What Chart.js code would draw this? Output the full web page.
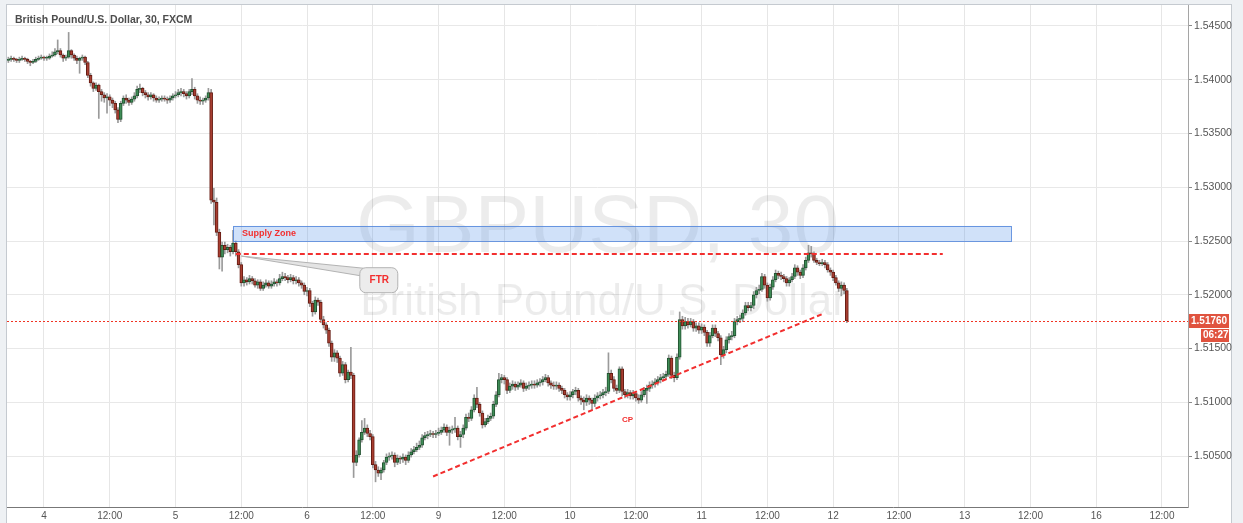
<!DOCTYPE html>
<html>
<head>
<meta charset="utf-8">
<script src="https://cdn.jsdelivr.net/npm/chart.js@4/dist/chart.umd.min.js"></script>
<style>
  html, body { margin: 0; padding: 0; background: #eef1f4; }
  canvas { display: block; }
</style>
</head>
<body>
<canvas id="fx" width="1243" height="523"></canvas>
<script>
// GBPUSD 30 min candles
const firstDay = '3';          // the first candle sits on day 3, 17:30
const firstHalfHour = 35;
const sessionDays = ['4', '5', '6', '9', '10', '11', '12', '13', '16'];
const slotCount = 431;

const opens = [
1.5418,1.5419,1.5420,1.5419,1.5418,1.5419,1.5420,1.5419,1.5417,1.5416,
1.5417,1.5419,1.5420,1.5421,1.5420,1.5420,1.5422,1.5423,1.5426,1.5427,
1.5423,1.5420,1.5421,1.5427,1.5423,1.5420,1.5418,1.5420,1.5421,1.5416,
1.5404,1.5397,1.5392,1.5395,1.5389,1.5386,1.5383,1.5384,1.5381,1.5378,
1.5372,1.5363,1.5378,1.5383,1.5381,1.5379,1.5382,1.5385,1.5391,1.5392,
1.5388,1.5386,1.5384,1.5386,1.5383,1.5381,1.5382,1.5383,1.5382,1.5381,
1.5383,1.5385,1.5386,1.5388,1.5389,1.5387,1.5385,1.5389,1.5391,1.5385,
1.5381,1.5380,1.5381,1.5383,1.5388,1.5288,1.5286,1.5258,1.5235,1.5246,
1.5242,1.5244,1.5240,1.5248,1.5240,1.5228,1.5211,1.5214,1.5212,1.5215,
1.5213,1.5209,1.5212,1.5206,1.5209,1.5211,1.5208,1.5210,1.5212,1.5211,
1.5215,1.5217,1.5216,1.5214,1.5216,1.5213,1.5214,1.5211,1.5209,1.5203,
1.5204,1.5192,1.5184,1.5195,1.5193,1.5177,1.5172,1.5167,1.5155,1.5142,
1.5146,1.5141,1.5127,1.5135,1.5121,1.5128,1.5125,1.5044,1.5051,1.5065,
1.5072,1.5076,1.5071,1.5068,1.5042,1.5037,1.5034,1.5037,1.5044,1.5049,
1.5050,1.5051,1.5044,1.5048,1.5047,1.5049,1.5046,1.5051,1.5054,1.5056,
1.5058,1.5060,1.5067,1.5069,1.5070,1.5071,1.5070,1.5071,1.5072,1.5074,
1.5077,1.5072,1.5074,1.5075,1.5076,1.5068,1.5070,1.5076,1.5086,1.5085,
1.5093,1.5104,1.5098,1.5090,1.5079,1.5082,1.5085,1.5087,1.5098,1.5107,
1.5121,1.5123,1.5121,1.5111,1.5115,1.5117,1.5114,1.5116,1.5118,1.5113,
1.5115,1.5116,1.5117,1.5116,1.5118,1.5119,1.5121,1.5123,1.5118,1.5116,
1.5115,1.5116,1.5113,1.5111,1.5107,1.5105,1.5107,1.5110,1.5111,1.5104,
1.5102,1.5100,1.5104,1.5102,1.5099,1.5104,1.5106,1.5107,1.5109,1.5110,
1.5127,1.5121,1.5113,1.5111,1.5131,1.5110,1.5107,1.5109,1.5106,1.5108,
1.5104,1.5102,1.5107,1.5111,1.5113,1.5116,1.5117,1.5119,1.5121,1.5123,
1.5124,1.5126,1.5141,1.5125,1.5123,1.5142,1.5177,1.5171,1.5175,1.5172,
1.5175,1.5169,1.5171,1.5167,1.5170,1.5165,1.5155,1.5162,1.5169,1.5164,
1.5160,1.5144,1.5149,1.5158,1.5161,1.5162,1.5175,1.5177,1.5178,1.5183,
1.5190,1.5188,1.5190,1.5200,1.5204,1.5205,1.5217,1.5209,1.5197,1.5207,
1.5214,1.5220,1.5218,1.5217,1.5215,1.5211,1.5214,1.5217,1.5225,1.5221,
1.5218,1.5225,1.5232,1.5239,1.5238,1.5232,1.5230,1.5229,1.5230,1.5228,
1.5223,1.5221,1.5216,1.5211,1.5206,1.5209,1.5204];

const highs = [
1.5421,1.5422,1.5421,1.5420,1.5421,1.5422,1.5421,1.5420,1.5418,1.5419,
1.5421,1.5422,1.5423,1.5422,1.5422,1.5424,1.5426,1.5429,1.5437,1.5429,
1.5424,1.5423,1.5444,1.5428,1.5424,1.5422,1.5421,1.5423,1.5422,1.5417,
1.5406,1.5398,1.5397,1.5396,1.5391,1.5388,1.5387,1.5386,1.5383,1.5380,
1.5374,1.5380,1.5385,1.5386,1.5383,1.5384,1.5388,1.5394,1.5396,1.5393,
1.5390,1.5388,1.5388,1.5387,1.5385,1.5384,1.5385,1.5385,1.5384,1.5385,
1.5387,1.5389,1.5391,1.5392,1.5391,1.5389,1.5391,1.5401,1.5393,1.5387,
1.5384,1.5383,1.5385,1.5392,1.5391,1.5299,1.5290,1.5261,1.5249,1.5249,
1.5247,1.5246,1.5260,1.5250,1.5242,1.5230,1.5217,1.5216,1.5218,1.5217,
1.5215,1.5214,1.5214,1.5212,1.5214,1.5213,1.5213,1.5215,1.5214,1.5219,
1.5221,1.5220,1.5218,1.5219,1.5218,1.5217,1.5216,1.5213,1.5211,1.5207,
1.5206,1.5194,1.5198,1.5197,1.5195,1.5180,1.5174,1.5169,1.5157,1.5149,
1.5148,1.5143,1.5138,1.5137,1.5130,1.5151,1.5127,1.5055,1.5067,1.5083,
1.5085,1.5079,1.5074,1.5070,1.5045,1.5040,1.5039,1.5046,1.5052,1.5053,
1.5054,1.5053,1.5051,1.5050,1.5052,1.5051,1.5054,1.5057,1.5059,1.5062,
1.5064,1.5070,1.5072,1.5073,1.5074,1.5073,1.5074,1.5076,1.5077,1.5080,
1.5079,1.5077,1.5078,1.5086,1.5078,1.5073,1.5079,1.5089,1.5090,1.5096,
1.5107,1.5114,1.5100,1.5092,1.5085,1.5088,1.5090,1.5101,1.5110,1.5127,
1.5126,1.5125,1.5123,1.5118,1.5120,1.5119,1.5119,1.5121,1.5120,1.5118,
1.5119,1.5120,1.5120,1.5121,1.5122,1.5124,1.5126,1.5125,1.5120,1.5119,
1.5119,1.5118,1.5115,1.5113,1.5109,1.5110,1.5112,1.5114,1.5113,1.5106,
1.5105,1.5107,1.5106,1.5104,1.5107,1.5109,1.5110,1.5112,1.5114,1.5146,
1.5130,1.5124,1.5116,1.5133,1.5133,1.5112,1.5112,1.5111,1.5111,1.5110,
1.5107,1.5110,1.5114,1.5116,1.5119,1.5120,1.5122,1.5124,1.5126,1.5127,
1.5129,1.5144,1.5143,1.5128,1.5145,1.5184,1.5180,1.5179,1.5178,1.5178,
1.5177,1.5174,1.5174,1.5173,1.5172,1.5167,1.5165,1.5172,1.5172,1.5166,
1.5162,1.5152,1.5161,1.5164,1.5166,1.5178,1.5180,1.5181,1.5186,1.5193,
1.5193,1.5193,1.5203,1.5207,1.5209,1.5220,1.5219,1.5211,1.5210,1.5217,
1.5223,1.5222,1.5221,1.5219,1.5217,1.5216,1.5220,1.5228,1.5227,1.5223,
1.5228,1.5235,1.5246,1.5245,1.5240,1.5234,1.5232,1.5233,1.5232,1.5230,
1.5225,1.5223,1.5218,1.5213,1.5212,1.5211,1.5206];

const lows = [
1.5416,1.5417,1.5417,1.5416,1.5416,1.5418,1.5417,1.5415,1.5413,1.5415,
1.5416,1.5418,1.5419,1.5418,1.5418,1.5419,1.5421,1.5422,1.5424,1.5421,
1.5417,1.5418,1.5420,1.5420,1.5418,1.5415,1.5406,1.5418,1.5414,1.5402,
1.5394,1.5389,1.5390,1.5364,1.5380,1.5379,1.5369,1.5376,1.5374,1.5369,
1.5360,1.5361,1.5376,1.5378,1.5376,1.5377,1.5380,1.5383,1.5388,1.5385,
1.5383,1.5381,1.5382,1.5380,1.5379,1.5379,1.5380,1.5380,1.5378,1.5379,
1.5381,1.5383,1.5384,1.5385,1.5384,1.5382,1.5383,1.5386,1.5382,1.5378,
1.5377,1.5377,1.5379,1.5381,1.5285,1.5265,1.5255,1.5224,1.5222,1.5238,
1.5239,1.5236,1.5238,1.5236,1.5225,1.5208,1.5208,1.5209,1.5210,1.5210,
1.5207,1.5206,1.5204,1.5204,1.5207,1.5206,1.5206,1.5208,1.5208,1.5209,
1.5213,1.5213,1.5211,1.5212,1.5210,1.5210,1.5208,1.5206,1.5200,1.5199,
1.5189,1.5180,1.5182,1.5190,1.5174,1.5169,1.5164,1.5152,1.5138,1.5138,
1.5137,1.5124,1.5125,1.5118,1.5119,1.5122,1.5030,1.5041,1.5049,1.5063,
1.5070,1.5068,1.5065,1.5039,1.5026,1.5031,1.5028,1.5035,1.5042,1.5046,
1.5047,1.5040,1.5042,1.5043,1.5044,1.5042,1.5044,1.5049,1.5052,1.5054,
1.5056,1.5058,1.5065,1.5066,1.5068,1.5067,1.5067,1.5069,1.5070,1.5072,
1.5069,1.5060,1.5071,1.5072,1.5065,1.5058,1.5067,1.5074,1.5082,1.5083,
1.5091,1.5095,1.5087,1.5076,1.5077,1.5080,1.5083,1.5085,1.5096,1.5105,
1.5118,1.5117,1.5108,1.5109,1.5112,1.5111,1.5112,1.5114,1.5110,1.5111,
1.5112,1.5113,1.5113,1.5114,1.5115,1.5116,1.5119,1.5115,1.5113,1.5112,
1.5112,1.5110,1.5108,1.5104,1.5102,1.5102,1.5104,1.5107,1.5101,1.5098,
1.5093,1.5097,1.5098,1.5093,1.5096,1.5101,1.5103,1.5104,1.5106,1.5108,
1.5118,1.5110,1.5108,1.5109,1.5106,1.5104,1.5104,1.5103,1.5103,1.5101,
1.5099,1.5100,1.5105,1.5099,1.5110,1.5113,1.5114,1.5116,1.5118,1.5120,
1.5121,1.5124,1.5122,1.5119,1.5121,1.5140,1.5168,1.5168,1.5169,1.5170,
1.5166,1.5166,1.5164,1.5164,1.5162,1.5152,1.5152,1.5160,1.5161,1.5157,
1.5135,1.5141,1.5146,1.5155,1.5158,1.5160,1.5172,1.5174,1.5175,1.5181,
1.5185,1.5185,1.5187,1.5197,1.5201,1.5203,1.5206,1.5194,1.5195,1.5205,
1.5212,1.5215,1.5214,1.5212,1.5208,1.5208,1.5212,1.5215,1.5218,1.5215,
1.5216,1.5223,1.5230,1.5235,1.5230,1.5228,1.5227,1.5227,1.5225,1.5221,
1.5218,1.5213,1.5209,1.5203,1.5199,1.5201,1.5174];

const closes = [
1.5419,1.5420,1.5419,1.5418,1.5419,1.5420,1.5419,1.5417,1.5416,1.5417,
1.5419,1.5420,1.5421,1.5420,1.5420,1.5422,1.5423,1.5426,1.5427,1.5423,
1.5420,1.5421,1.5427,1.5423,1.5420,1.5418,1.5420,1.5421,1.5416,1.5404,
1.5397,1.5392,1.5395,1.5389,1.5386,1.5383,1.5384,1.5381,1.5378,1.5372,
1.5363,1.5378,1.5383,1.5381,1.5379,1.5382,1.5385,1.5391,1.5392,1.5388,
1.5386,1.5384,1.5386,1.5383,1.5381,1.5382,1.5383,1.5382,1.5381,1.5383,
1.5385,1.5386,1.5388,1.5389,1.5387,1.5385,1.5389,1.5391,1.5385,1.5381,
1.5380,1.5381,1.5383,1.5388,1.5288,1.5286,1.5258,1.5235,1.5246,1.5242,
1.5244,1.5240,1.5248,1.5240,1.5228,1.5211,1.5214,1.5212,1.5215,1.5213,
1.5209,1.5212,1.5206,1.5209,1.5211,1.5208,1.5210,1.5212,1.5211,1.5215,
1.5217,1.5216,1.5214,1.5216,1.5213,1.5214,1.5211,1.5209,1.5203,1.5204,
1.5192,1.5184,1.5195,1.5193,1.5177,1.5172,1.5167,1.5155,1.5142,1.5146,
1.5141,1.5127,1.5135,1.5121,1.5128,1.5125,1.5044,1.5051,1.5065,1.5072,
1.5076,1.5071,1.5068,1.5042,1.5037,1.5034,1.5037,1.5044,1.5049,1.5050,
1.5051,1.5044,1.5048,1.5047,1.5049,1.5046,1.5051,1.5054,1.5056,1.5058,
1.5060,1.5067,1.5069,1.5070,1.5071,1.5070,1.5071,1.5072,1.5074,1.5077,
1.5072,1.5074,1.5075,1.5076,1.5068,1.5070,1.5076,1.5086,1.5085,1.5093,
1.5104,1.5098,1.5090,1.5079,1.5082,1.5085,1.5087,1.5098,1.5107,1.5121,
1.5123,1.5121,1.5111,1.5115,1.5117,1.5114,1.5116,1.5118,1.5113,1.5115,
1.5116,1.5117,1.5116,1.5118,1.5119,1.5121,1.5123,1.5118,1.5116,1.5115,
1.5116,1.5113,1.5111,1.5107,1.5105,1.5107,1.5110,1.5111,1.5104,1.5102,
1.5100,1.5104,1.5102,1.5099,1.5104,1.5106,1.5107,1.5109,1.5110,1.5127,
1.5121,1.5113,1.5111,1.5131,1.5110,1.5107,1.5109,1.5106,1.5108,1.5104,
1.5102,1.5107,1.5111,1.5113,1.5116,1.5117,1.5119,1.5121,1.5123,1.5124,
1.5126,1.5141,1.5125,1.5123,1.5142,1.5177,1.5171,1.5175,1.5172,1.5175,
1.5169,1.5171,1.5167,1.5170,1.5165,1.5155,1.5162,1.5169,1.5164,1.5160,
1.5144,1.5149,1.5158,1.5161,1.5162,1.5175,1.5177,1.5178,1.5183,1.5190,
1.5188,1.5190,1.5200,1.5204,1.5205,1.5217,1.5209,1.5197,1.5207,1.5214,
1.5220,1.5218,1.5217,1.5215,1.5211,1.5214,1.5217,1.5225,1.5221,1.5218,
1.5225,1.5232,1.5239,1.5238,1.5232,1.5230,1.5229,1.5230,1.5228,1.5223,
1.5221,1.5216,1.5211,1.5206,1.5209,1.5204,1.5176];

const priceTicks = [1.505, 1.510, 1.515, 1.520, 1.525, 1.530, 1.535, 1.540, 1.545];
const priceMin = 1.50026, priceMax = 1.54695;

// drawings on the chart (slot index, price)
const supplyZone = { from: 82, to: 366, low: 1.5250, high: 1.5264, text: 'Supply Zone' };
const ftrLine = { from: 83, to: 341, price: 1.5238 };
const ftrNote = { at: 85, price: 1.5236, boxAt: 135, boxPrice: 1.5214, text: 'FTR' };
const trendLine = { from: 155, fromPrice: 1.5031, to: 297, toPrice: 1.5182 };
const cpNote = { at: 226, price: 1.5084, text: 'CP' };
const countdown = '06:27';
const titleText = 'British Pound/U.S. Dollar, 30, FXCM';

// time labels for every 30 min slot
const slotLabels = [];
const allDays = [firstDay].concat(sessionDays);
allDays.forEach((d, k) => {
  for (let h = (k === 0 ? firstHalfHour : 0); h < 48; h++) {
    const hh = String(Math.floor(h / 2)).padStart(2, '0');
    slotLabels.push(d + ' ' + hh + ':' + (h % 2 ? '30' : '00'));
  }
});
const labels = slotLabels.slice(0, slotCount);

function axisText(i) {
  const parts = labels[i].split(' ');
  if (parts[1] === '00:00') return parts[0];
  if (parts[1] === '12:00') return '12:00';
  return null;
}

const RED = '#f22f2f';
const FONT = '"Liberation Sans", Arial, sans-serif';

const wickData = lows.map((l, i) => [l, highs[i]]);
const bodyData = closes.map((c, i) => [opens[i], c]);
const upDown = closes.map((c, i) => c >= opens[i]);

const deco = {
  id: 'deco',
  beforeDraw(chart) {
    const c = chart.ctx;
    c.save();
    c.fillStyle = '#eef1f4';
    c.fillRect(0, 0, chart.width, chart.height);
    c.fillStyle = '#ffffff';
    c.fillRect(6, 4, 1226, 520);
    c.strokeStyle = '#c5cad0';
    c.lineWidth = 1;
    c.strokeRect(6.5, 4.5, 1225, 520);
    c.restore();
  },
  beforeDatasetsDraw(chart) {
    const c = chart.ctx, a = chart.chartArea;
    const cx = (a.left + a.right) / 2, cy = (a.top + a.bottom) / 2;
    c.save();
    c.fillStyle = 'rgba(0,0,0,0.075)';
    c.textAlign = 'center';
    c.textBaseline = 'alphabetic';
    c.font = '82px ' + FONT;
    c.fillText('GBPUSD, 30', cx, cy - 4);
    c.font = '44px ' + FONT;
    c.fillText('British Pound/U.S. Dollar', cx + 6, cy + 59);
    c.restore();
  },
  afterDatasetsDraw(chart) {
    const c = chart.ctx, a = chart.chartArea;
    const x = chart.scales.x, y = chart.scales.y;
    c.save();

    // supply zone
    const zx1 = x.getPixelForValue(supplyZone.from), zx2 = x.getPixelForValue(supplyZone.to);
    const zy1 = y.getPixelForValue(supplyZone.high), zy2 = y.getPixelForValue(supplyZone.low);
    c.fillStyle = 'rgba(100,155,235,0.3)';
    c.fillRect(zx1, zy1, zx2 - zx1, zy2 - zy1);
    c.strokeStyle = 'rgba(85,135,220,0.85)';
    c.lineWidth = 1;
    c.strokeRect(Math.round(zx1) + 0.5, Math.round(zy1) + 0.5, Math.round(zx2 - zx1), Math.round(zy2 - zy1));
    c.fillStyle = RED;
    c.font = 'bold 9px ' + FONT;
    c.textBaseline = 'middle';
    c.fillText(supplyZone.text, zx1 + 9, (zy1 + zy2) / 2);

    // dashed lines
    c.strokeStyle = RED;
    c.lineWidth = 2;
    c.setLineDash([5, 3]);
    const fy = y.getPixelForValue(ftrLine.price);
    c.beginPath();
    c.moveTo(x.getPixelForValue(ftrLine.from), fy);
    c.lineTo(x.getPixelForValue(ftrLine.to), fy);
    c.stroke();
    c.beginPath();
    c.moveTo(x.getPixelForValue(trendLine.from), y.getPixelForValue(trendLine.fromPrice));
    c.lineTo(x.getPixelForValue(trendLine.to), y.getPixelForValue(trendLine.toPrice));
    c.stroke();
    c.setLineDash([]);

    // FTR callout
    const ax = x.getPixelForValue(ftrNote.at), ay = y.getPixelForValue(ftrNote.price);
    const bx = x.getPixelForValue(ftrNote.boxAt), by = y.getPixelForValue(ftrNote.boxPrice);
    const bw = 38, bh = 25;
    c.fillStyle = '#e4e4e4';
    c.strokeStyle = '#b3b3b3';
    c.lineWidth = 1;
    c.beginPath();
    c.moveTo(ax, ay);
    c.lineTo(bx - bw / 2 + 4, by - bh / 2 + 1);
    c.lineTo(bx - bw / 2 + 4, by - bh / 2 + 9);
    c.closePath();
    c.fill();
    c.stroke();
    c.beginPath();
    c.roundRect(bx - bw / 2 + 0.5, by - bh / 2 + 0.5, bw, bh, 6);
    c.fillStyle = '#ececec';
    c.fill();
    c.stroke();
    c.fillStyle = RED;
    c.font = 'bold 10px ' + FONT;
    c.textAlign = 'center';
    c.fillText(ftrNote.text, bx + 1, by + 1);

    // CP
    c.font = 'bold 8px ' + FONT;
    c.fillText(cpNote.text, x.getPixelForValue(cpNote.at), y.getPixelForValue(cpNote.price));

    // last price line + label
    const last = closes[closes.length - 1];
    const ly = Math.round(y.getPixelForValue(last)) + 0.5;
    c.strokeStyle = '#f03424';
    c.lineWidth = 1;
    c.setLineDash([2, 2]);
    c.beginPath();
    c.moveTo(a.left, ly);
    c.lineTo(a.right, ly);
    c.stroke();
    c.setLineDash([]);
    c.fillStyle = '#e0533f';
    c.fillRect(a.right + 1, ly - 7.5, 40, 14);
    c.fillRect(a.right + 13, ly + 7.5, 28, 13);
    c.fillStyle = '#ffffff';
    c.font = 'bold 10px ' + FONT;
    c.textAlign = 'left';
    c.fillText(last.toFixed(5), a.right + 3, ly);
    c.fillText(countdown, a.right + 15, ly + 14);

    // title
    c.fillStyle = '#4d4d4d';
    c.font = 'bold 10.5px ' + FONT;
    c.textBaseline = 'alphabetic';
    c.fillText(titleText, 15, 23);
    c.restore();
  }
};

new Chart(document.getElementById('fx'), {
  type: 'bar',
  data: {
    labels: labels,
    datasets: [
      {
        data: bodyData,
        backgroundColor: upDown.map(u => u ? '#3f8d57' : '#a83e31'),
        borderColor: upDown.map(u => u ? '#215230' : '#661c13'),
        borderWidth: 1,
        borderSkipped: false,
        barThickness: 3,
        minBarLength: 1,
        grouped: false,
        order: 1
      },
      {
        data: wickData,
        backgroundColor: '#9a9a9a',
        barThickness: 1,
        grouped: false,
        order: 2
      }
    ]
  },
  options: {
    responsive: false,
    animation: false,
    events: [],
    layout: { padding: { left: 7, top: 5, right: 0, bottom: 0 } },
    plugins: { legend: { display: false }, tooltip: { enabled: false } },
    scales: {
      x: {
        offset: true,
        grid: {
          offset: false,
          drawTicks: false,
          color: ctx => (ctx.index !== undefined && axisText(ctx.index) !== null) ? '#e6e6e6' : 'rgba(0,0,0,0)'
        },
        border: { color: '#777777', width: 1 },
        ticks: {
          autoSkip: false,
          maxRotation: 0,
          minRotation: 0,
          padding: 3,
          color: '#555555',
          font: { size: 10, family: FONT },
          callback: (v, i) => axisText(i) || ''
        },
        afterFit: s => { s.height = 16; s.paddingLeft = 0; s.paddingRight = 0; }
      },
      y: {
        position: 'right',
        min: priceMin,
        max: priceMax,
        afterBuildTicks: s => { s.ticks = priceTicks.map(v => ({ value: v })); },
        grid: { color: '#e8e8e8', tickColor: '#8a8a8a', tickLength: 4 },
        border: { color: '#a5a5a5', width: 1 },
        ticks: {
          padding: 2,
          color: '#555555',
          font: { size: 10.5, family: FONT },
          callback: v => v.toFixed(5)
        },
        afterFit: s => { s.width = 55; s.paddingTop = 0; s.paddingBottom = 0; }
      }
    }
  },
  plugins: [deco]
});
</script>
</body>
</html>
